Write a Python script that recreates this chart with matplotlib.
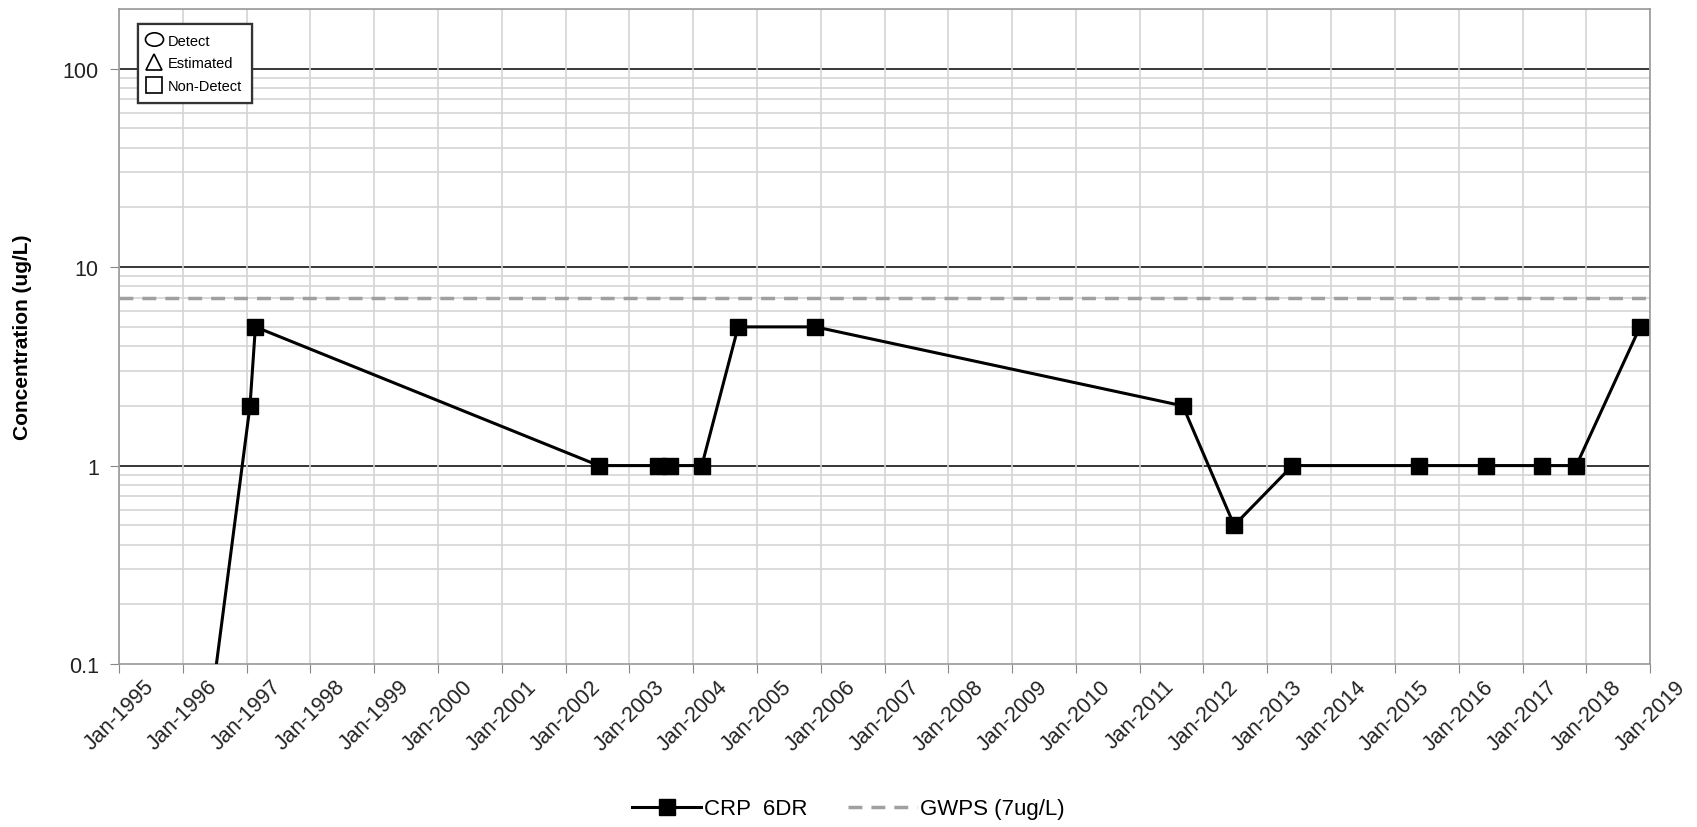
import numpy as np
import pandas as pd
import matplotlib
matplotlib.use("Agg")
import matplotlib.pyplot as plt
from matplotlib.lines import Line2D
from matplotlib.path import Path
from matplotlib.transforms import Affine2D
from matplotlib.ticker import LogLocator, FixedLocator, NullFormatter

plt.rcParams['font.family'] = ['Liberation Sans', 'DejaVu Sans']

# sample dates and concentrations (ug/L) for CRP 6DR
dates = ["1996-02-15", "1997-01-20", "1997-02-20", "2002-07-10", "2003-06-15",
         "2003-08-20", "2004-02-20", "2004-09-15", "2005-12-01", "2011-09-05",
         "2012-06-25", "2013-05-25", "2015-05-20", "2016-06-05", "2017-04-20",
         "2017-11-05", "2018-11-05"]
values = [0.01, 2, 5, 1, 1, 1, 1, 5, 5, 2, 0.5, 1, 1, 1, 1, 1, 5]
gwps = 7
series_label = "CRP  6DR"
gwps_label = "GWPS (7ug/L)"
years = list(range(1995, 2020))

dates = pd.to_datetime(dates)
ticks = pd.to_datetime([f"{y}-01-01" for y in years])

fig = plt.figure(figsize=(16.97, 8.28), dpi=100)
ax = fig.add_axes([119/1697, 1 - 665/828, (1650-119)/1697, (665-10)/828])

ax.set_yscale("log")
ax.set_ylim(0.1, 200)
ax.set_xlim(ticks[0], ticks[-1])

# gridlines
ax.yaxis.set_major_locator(FixedLocator([0.1, 1, 10, 100]))
ax.yaxis.set_minor_locator(LogLocator(base=10, subs=np.arange(2, 10), numticks=20))
ax.yaxis.set_minor_formatter(NullFormatter())
ax.set_yticklabels(["0.1", "1", "10", "100"])
ax.grid(True, which="minor", axis="y", color="#d4d4d4", lw=1.2, zorder=0)
for v in [1, 10, 100]:
    ax.axhline(v, color="black", lw=1.1, zorder=1)
ax.set_xticks(ticks)
ax.set_xticklabels([f"Jan-{y}" for y in years], rotation=45, ha="center")
ax.grid(True, which="major", axis="x", color="#d4d4d4", lw=1.2, zorder=0)

ax.tick_params(axis="both", which="major", length=6.5, color="#888888",
               labelsize=15.5, colors="#222222")
ax.tick_params(axis="y", which="minor", length=0)
ax.tick_params(axis="y", pad=8)
ax.tick_params(axis="x", pad=2)
for s in ax.spines.values():
    s.set_color("#999999")
    s.set_linewidth(1.2)

ax.axhline(gwps, color="#a0a0a0", lw=2.5, ls=(0, (4, 2.6)), zorder=2)
ax.plot(dates, values, color="black", lw=2.2, marker="s", ms=11.5, zorder=3)

ax.set_ylabel("Concentration (ug/L)", fontsize=15, fontweight="bold")
ax.yaxis.set_label_coords(-0.057, 0.5)

# symbol key in top-left
ellipse = Path.unit_circle().transformed(Affine2D().scale(1.35, 1.0))
key = [Line2D([], [], ls="none", marker=ellipse, ms=13, mfc="none", mec="black", mew=1.2, label="Detect"),
       Line2D([], [], ls="none", marker="^", ms=12, mfc="none", mec="black", mew=1.2, label="Estimated"),
       Line2D([], [], ls="none", marker="s", ms=12, mfc="none", mec="black", mew=1.2, label="Non-Detect")]
kl = ax.legend(handles=key, loc="upper left", bbox_to_anchor=(0.0125, 0.977),
               fontsize=10.5, handlelength=0.9, handletextpad=0.5, labelspacing=0.6,
               borderpad=0.65, borderaxespad=0, fancybox=False, framealpha=1,
               edgecolor="#333333")
kl.get_frame().set_linewidth(1.6)
ax.add_artist(kl)

handles = [Line2D([], [], color="black", lw=2.2, marker="s", ms=11.5, label=series_label),
           Line2D([], [], color="#a0a0a0", lw=2.5, ls=(0, (4, 2.6)), label=gwps_label)]
fig.legend(handles=handles, loc="center", bbox_to_anchor=(0.5, 1 - 810/828), ncol=2,
           frameon=False, fontsize=16, handlelength=3.1, columnspacing=1.8,
           handletextpad=0.15)

fig.savefig("out.png", dpi=100)
